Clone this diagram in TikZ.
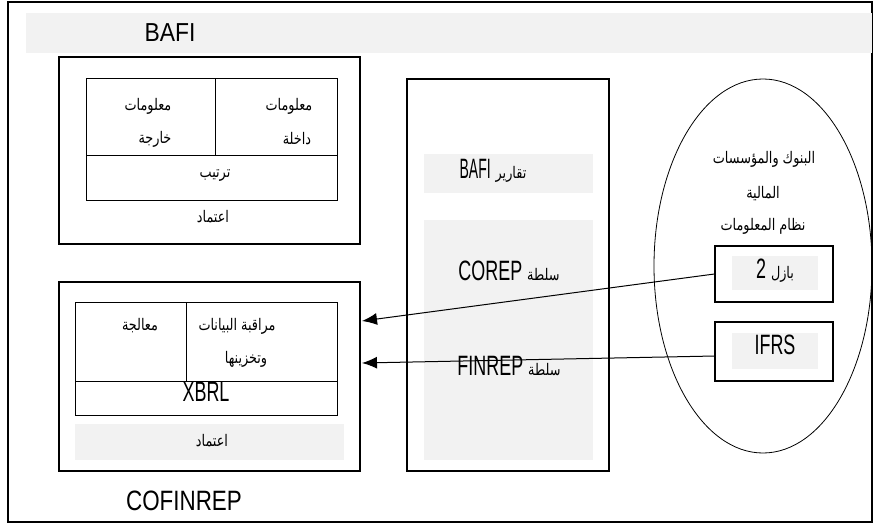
\documentclass[tikz,border=0pt]{standalone}
\usepackage{fontspec}
\usetikzlibrary{arrows.meta,shapes.geometric}
\setmainfont{Liberation Sans}
\newfontfamily\titlefont[FakeStretch=0.88]{Liberation Sans}
\newfontfamily\narrowfont[FakeStretch=0.8]{Liberation Sans}
\newfontfamily\condfont[FakeStretch=0.64]{Liberation Sans}
\newfontfamily\tightfont[FakeStretch=0.5]{Liberation Sans}
\newfontfamily\arabicfont[Script=Arabic,FakeStretch=0.8]{DejaVu Sans}
\newcommand{\arsize}{\arabicfont\fontsize{16}{18}\selectfont}
\TeXXeTstate=1
\definecolor{panel}{RGB}{242,242,242}

\begin{document}
\begin{tikzpicture}[x=1pt,y=-1pt,
  outline/.style={draw,line width=1.2pt,inner sep=0pt},
  shade/.style={fill=panel,draw=none,inner sep=0pt},
  cell/.style={line width=1pt},
  latin/.style={inner sep=0pt,font=\condfont\fontsize{28}{30}\selectfont},
  arab/.style={inner sep=0pt,font=\arsize},
  flow/.style={line width=1pt,-{Latex[length=15pt,width=12pt]}}]
\useasboundingbox (0,0) rectangle (875,524);

% outer frame and BAFI banner
\node[outline,minimum width=864pt,minimum height=520pt] (frame) at (440,262) {};
\node[shade,minimum width=846pt,minimum height=40pt] (banner) at (449,33) {};
\node[inner sep=0pt,font=\titlefont\fontsize{26}{28}\selectfont] (bafititle) at (170,33) {BAFI};
\node[inner sep=0pt,font=\narrowfont\fontsize{28}{30}\selectfont] (cofinrep) at (184,501) {COFINREP};

% BAFI block: internal / external information, sorting, approval
\node[outline,minimum width=301pt,minimum height=187pt] (bafibox) at (209.5,150.5) {};
\draw[cell] (86,79) rectangle (337,200);
\draw[cell] (215,79) -- (215,155);
\draw[cell] (86,155) -- (337,155);
\node[arab] (extA) at (148,106) {معلومات};
\node[arab] (extB) at (155,139) {خارجة};
\node[arab] (intA) at (289,106) {معلومات};
\node[arab] (intB) at (297,139) {داخلة};
\node[arab] (sorting) at (215,176) {ترتيب};
\node[arab] (approveA) at (213,217) {اعتماد};

% COFINREP block
\node[outline,minimum width=301pt,minimum height=189pt] (cofbox) at (209.5,376.5) {};
\draw[cell] (75,302) rectangle (337,415);
\draw[cell] (186,302) -- (186,381);
\draw[cell] (75,381) -- (337,381);
\node[arab] (processing) at (140,326) {معالجة};
\node[arab] (controlA) at (237,326) {\beginR مراقبة البيانات\endR};
\node[arab] (controlB) at (246,359) {وتخزينها};
\node[latin] (xbrl) at (206,392) {XBRL};
\node[shade,minimum width=269pt,minimum height=36pt] (approvebar) at (209.5,442) {};
\node[arab] (approveB) at (212,441) {اعتماد};

% supervisory reporting column
\node[outline,minimum width=202pt,minimum height=392pt] (column) at (508,275) {};
\node[shade,minimum width=169pt,minimum height=39pt] (repbar) at (508.5,173.5) {};
\node[shade,minimum width=169pt,minimum height=240pt] (authbar) at (508.5,340) {};
\node[latin] (reports) at (493,171) {\beginR{\arsize تقارير} {\tightfont BAFI}\endR};
\node[latin] (corep) at (509,271) {\beginR{\arsize سلطة} COREP\endR};
\node[latin] (finrep) at (509,366) {\beginR{\arsize سلطة} FINREP\endR};

% banks and financial institutions
\node[ellipse,draw,line width=0.8pt,minimum width=218pt,minimum height=374pt,inner sep=0pt] (banks) at (763,266) {};
\node[arab] (banksA) at (764,159) {\beginR البنوك والمؤسسات\endR};
\node[arab] (banksB) at (763,194) {المالية};
\node[arab] (banksC) at (763,226) {\beginR نظام المعلومات\endR};

\node[outline,minimum width=118pt,minimum height=56pt] (basel) at (774,274) {};
\node[shade,minimum width=86pt,minimum height=34pt] (baselbar) at (775,273) {};
\node[latin] (baseltext) at (775,271) {\beginR{\arsize بازل} 2\endR};

\node[outline,minimum width=118pt,minimum height=59pt] (ifrs) at (774,351.5) {};
\node[shade,minimum width=86pt,minimum height=36pt] (ifrsbar) at (775,351) {};
\node[latin] (ifrstext) at (775,345) {IFRS};

% reporting flows into COFINREP
\coordinate (ifrsout) at (715,356);
\coordinate (tipA) at (362,321);
\coordinate (tipB) at (362,363);
\draw[flow] (basel.west) -- (tipA);
\draw[flow] (ifrsout) -- (tipB);
\end{tikzpicture}
\end{document}
